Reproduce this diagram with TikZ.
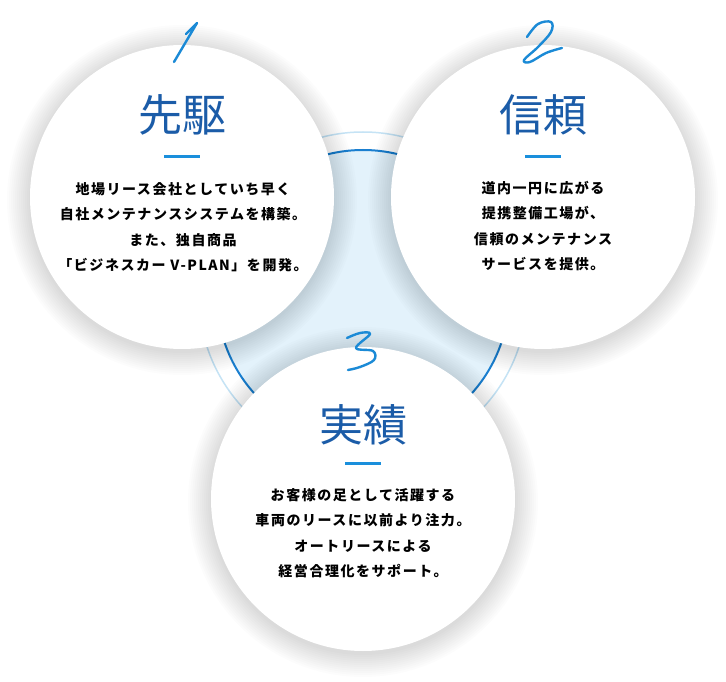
\documentclass[tikz,border=0pt]{standalone}
\usepackage{fontspec}
\newfontfamily\jpbodyfont[LetterSpace=11]{Noto Sans CJK JP}
\newfontfamily\jptitlefont{Noto Sans CJK JP}
\usetikzlibrary{positioning}
\definecolor{titleBlue}{HTML}{1B5CA8}
\definecolor{dashBlue}{HTML}{1A8FDC}
\definecolor{numBlue}{HTML}{1B8AD6}
\definecolor{ringBlue}{HTML}{1A7FD0}
\definecolor{ringLight}{HTML}{C5E3F5}
\definecolor{hubFill}{HTML}{E3F2FB}

\begin{document}
\begin{tikzpicture}[
    x=1pt, y=-1pt,
    bubble/.style={circle, fill=white, minimum size=304pt, inner sep=0pt},
    title/.style={font=\fontsize{44}{44}\selectfont\jptitlefont\color{titleBlue},
                  inner sep=0pt},
    dashbar/.style={rectangle, fill=dashBlue, minimum width=36pt,
                    minimum height=3pt, inner sep=0pt},
    body/.style={font=\fontsize{14}{25.5}\selectfont\jpbodyfont\bfseries,
                 align=center, inner sep=0pt},
    digit/.style={draw=numBlue, line width=2.4pt, line cap=round, line join=round},
  ]
    \useasboundingbox (0,0) rectangle (726,682);
    \fill[white] (0,0) rectangle (726,682);

    % centre disc with its two rings
    \coordinate (hub) at (363,296);
    \fill[hubFill] (hub) circle (146);
    \draw[ringLight, line width=1.5pt] (hub) circle (164);
    \draw[ringBlue, line width=2pt] (hub) circle (146);

    \coordinate (p1) at (182,197);
    \coordinate (p2) at (543,197);
    \coordinate (p3) at (363,499);

    % soft shadows
    \foreach \p in {p1,p2,p3}{
      \foreach \i in {1,...,12}
        \fill[black, opacity=0.012] ([yshift=-3pt]\p) circle (151+2*\i);
    }

    \node[bubble] (c1) at (p1) {};
    \node[bubble] (c2) at (p2) {};
    \node[bubble] (c3) at (p3) {};

    % circle 1
    \node[title] (t1) at (182,115) {先駆};
    \node[dashbar] (d1) at (182,157) {};
    \node[body] (b1) at (183,227) {地場リース会社としていち早く\\自社メンテナンスシステムを構築。\\また、独自商品\\「ビジネスカー V-PLAN」を開発。};

    % circle 2
    \node[title] (t2) at (543,115) {信頼};
    \node[dashbar] (d2) at (543,157) {};
    \node[body] (b2) at (543,226) {道内一円に広がる\\提携整備工場が、\\信頼のメンテナンス\\サービスを提供。};

    % circle 3
    \node[title] (t3) at (363,425) {実績};
    \node[dashbar] (d3) at (363,463) {};
    \node[body] (b3) at (363,533) {お客様の足として活躍する\\車両のリースに以前より注力。\\オートリースによる\\経営合理化をサポート。};

    % hand-written numbers
    \draw[digit] (186,34) -- (197,23) -- (174,62);
    \draw[digit] plot[smooth, tension=0.6] coordinates
      {(527,37) (538,24) (551,22) (551,32) (538,47) (524,60) (530,62) (546,53) (562,48)};
    \draw[digit] plot[smooth, tension=0.6] coordinates
      {(347,338) (360,333) (370,334) (356,348) (373,351) (374,360) (360,367) (348,370)};
  \end{tikzpicture}
\end{document}
